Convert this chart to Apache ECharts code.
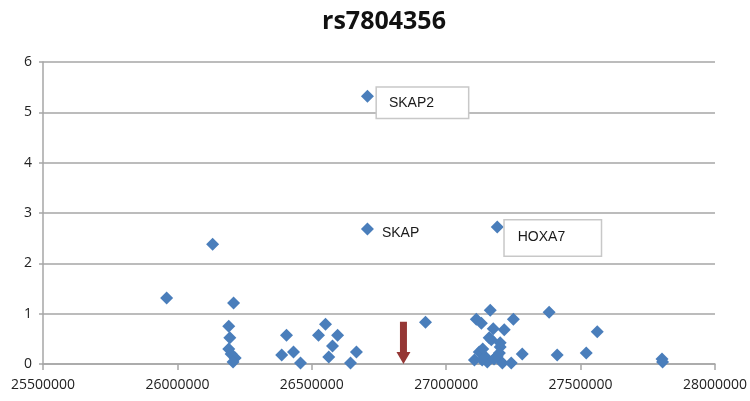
<!DOCTYPE html>
<html>
<head>
<meta charset="utf-8">
<script src="https://cdn.jsdelivr.net/npm/echarts@6/dist/echarts.min.js"></script>
<style>
  html, body { margin: 0; padding: 0; background: #fff; }
</style>
</head>
<body>
<div id="chart" style="width:750px;height:401px;"></div>
<script>
var chartTitle = 'rs7804356'
// 位置 (bp)
var positions = [
  25960000, 26131000, 26209000, 26191000, 26195000, 26191000, 26200000, 26215000, 26207000,
  26388000, 26406000, 26432000, 26458000, 26525000, 26551000, 26563000, 26577000, 26596000,
  26644000, 26666000, 26707000, 26707000, 26923000, 27190000,
  27112000, 27131000, 27164000, 27250000, 27216000, 27175000, 27160000, 27201000, 27201000,
  27123000, 27105000, 27146000, 27153000, 27190000, 27209000, 27242000, 27283000,
  27383000, 27413000, 27521000, 27562000, 27803000, 27805000,
  27168000, 27136000, 27134000, 27198000, 27178000
]
// -log10(p)
var scores = [
  1.31, 2.38, 1.21, 0.75, 0.52, 0.30, 0.20, 0.12, 0.04,
  0.18, 0.57, 0.24, 0.02, 0.57, 0.79, 0.14, 0.36, 0.57,
  0.02, 0.24, 2.68, 5.32, 0.83, 2.72,
  0.89, 0.81, 1.07, 0.89, 0.68, 0.70, 0.52, 0.42, 0.34,
  0.24, 0.08, 0.14, 0.04, 0.16, 0.02, 0.02, 0.20,
  1.03, 0.18, 0.22, 0.64, 0.10, 0.04,
  0.48, 0.30, 0.08, 0.22, 0.10
]
// 基因标注 (index -> name)
var geneLabels = { 20: 'SKAP', 21: 'SKAP2', 23: 'HOXA7' }
// SNP 位置箭头
var snpPos = 26841000
var snpArrowTop = 0.84

var xMin = 25500000
var xMax = 28000000
var xStep = 500000
var yMin = 0
var yMax = 6
var yStep = 1

var myChart = echarts.init(document.getElementById('chart'))

// 标签样式
var boxStyle = {
  SKAP2: { position: [16, -2], backgroundColor: '#fff', borderColor: '#c8c8c8', borderWidth: 1.5, padding: [8, 10, 7, 12], width: 69, height: 15 },
  HOXA7: { position: [14, 0], backgroundColor: '#fff', borderColor: '#c8c8c8', borderWidth: 1.5, padding: [10, 10, 10, 13], width: 73, height: 15 },
  SKAP: { position: [21, 11], verticalAlign: 'middle' }
}

var points = positions.map(function (x, i) {
  var item = { value: [x, scores[i]] }
  var name = geneLabels[i]
  if (name) {
    var st = boxStyle[name]
    item.label = Object.assign({
      show: true,
      formatter: name,
      align: 'left',
      verticalAlign: 'top',
      color: '#1a1a1a',
      fontSize: 14,
      fontFamily: 'Liberation Sans'
    }, st)
  }
  return item
})

var option = {
  animation: false,
  title: {
    text: chartTitle,
    left: 379,
    top: 4,
    textAlign: 'center',
    textStyle: {
      fontFamily: 'Open Sans',
      fontSize: 25,
      fontWeight: 'bold',
      color: '#111'
    }
  },
  grid: {
    left: 43,
    right: 34,
    top: 62,
    bottom: 37,
    containLabel: false
  },
  xAxis: {
    type: 'value',
    min: xMin,
    max: xMax,
    interval: xStep,
    axisLine: { show: true, lineStyle: { color: '#a6a6a6', width: 1.5 } },
    axisTick: { show: true, length: 6, lineStyle: { color: '#a6a6a6', width: 1.5 } },
    axisLabel: {
      color: '#222',
      fontSize: 14,
      fontFamily: 'Open Sans',
      margin: 14,
      formatter: function (v) { return String(v) }
    },
    splitLine: { show: false }
  },
  yAxis: {
    type: 'value',
    min: yMin,
    max: yMax,
    interval: yStep,
    axisLine: { show: true, lineStyle: { color: '#a6a6a6', width: 1.5 } },
    axisTick: { show: true, length: 4, lineStyle: { color: '#a6a6a6', width: 1.5 } },
    axisLabel: {
      color: '#222',
      fontSize: 14,
      fontFamily: 'Open Sans',
      margin: 11
    },
    splitLine: { show: true, lineStyle: { color: '#a6a6a6', width: 1.5 } }
  },
  series: [
    {
      type: 'custom',
      silent: true,
      data: [[snpPos, snpArrowTop, 0]],
      renderItem: function (params, api) {
        var top = api.coord([api.value(0), api.value(1)])
        var bottom = api.coord([api.value(0), api.value(2)])
        var sw = 3.5
        var hw = 7
        var hh = 12
        var x = top[0]
        return {
          type: 'polygon',
          shape: {
            points: [
              [x - sw, top[1]], [x + sw, top[1]], [x + sw, bottom[1] - hh],
              [x + hw, bottom[1] - hh], [x, bottom[1]], [x - hw, bottom[1] - hh],
              [x - sw, bottom[1] - hh]
            ]
          },
          style: { fill: '#953735' }
        }
      }
    },
    {
      type: 'scatter',
      symbol: 'diamond',
      symbolSize: 13,
      itemStyle: { color: '#4a7ebb', opacity: 1 },
      data: points
    }
  ]
}
myChart.setOption(option)
</script>
</body>
</html>
